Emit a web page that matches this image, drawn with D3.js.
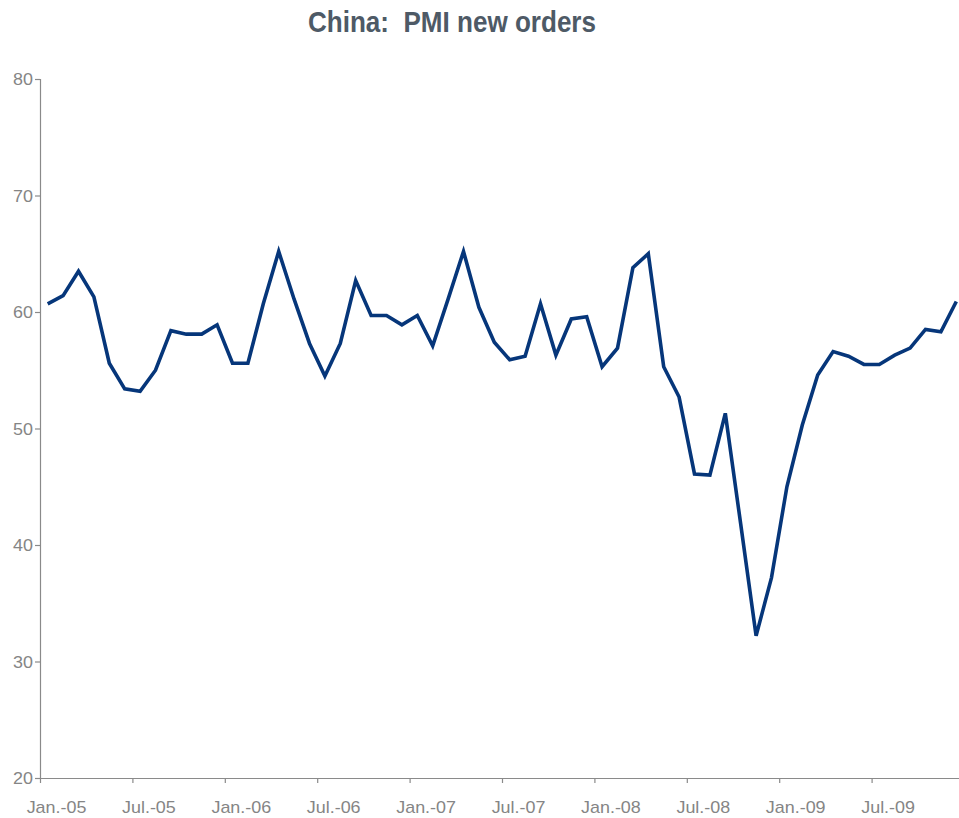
<!DOCTYPE html>
<html>
<head>
<meta charset="utf-8">
<script src="https://cdn.jsdelivr.net/npm/d3@7"></script>
<style>
  html, body { margin: 0; padding: 0; background: #fff; }
  svg { display: block; }
</style>
</head>
<body>
<div id="chart"></div>
<script>
// China PMI new-orders index, monthly, Jan 2005 - Dec 2009
const months = [];
for (const yr of ["05", "06", "07", "08", "09"]) {
  for (const m of ["Jan", "Feb", "Mar", "Apr", "May", "Jun", "Jul", "Aug", "Sep", "Oct", "Nov", "Dec"]) {
    months.push(m + ".-" + yr);
  }
}

const newOrders = [
  60.7, 61.4, 63.5, 61.3, 55.6, 53.4, 53.2, 55.0, 58.4, 58.1, 58.1, 58.9,
  55.6, 55.6, 60.7, 65.2, 61.1, 57.3, 54.5, 57.3, 62.7, 59.7, 59.7, 58.9,
  59.7, 57.1, 61.1, 65.2, 60.4, 57.4, 55.9, 56.2, 60.7, 56.3, 59.4, 59.6,
  55.3, 56.9, 63.8, 65.0, 55.3, 52.7, 46.1, 46.0, 51.3, 41.8, 32.2, 37.2,
  45.0, 50.3, 54.6, 56.6, 56.2, 55.5, 55.5, 56.3, 56.9, 58.5, 58.3, 60.9
];

const xTickLabels = ["Jan.-05", "Jul.-05", "Jan.-06", "Jul.-06", "Jan.-07",
                     "Jul.-07", "Jan.-08", "Jul.-08", "Jan.-09", "Jul.-09"];
const yTicks = [20, 30, 40, 50, 60, 70, 80];

const W = 959, H = 818;
const margin = { left: 40, top: 79, bottom: 40 };
const plotRight = 964;          // the last month runs just past the window edge

const svg = d3.select("#chart").append("svg")
  .attr("width", W).attr("height", H);

// months as unit-wide slots; each value sits in the middle of its slot
const x = d3.scaleLinear().domain([0, months.length]).range([margin.left, plotRight]);
const y = d3.scaleLinear().domain([20, 80]).range([H - margin.bottom, margin.top]);

const axisColor = "#8a8a8a";
const labelColor = "#858585";

// title
svg.append("text")
  .attr("x", 452).attr("y", 32)
  .attr("text-anchor", "middle")
  .attr("textLength", 288)
  .attr("lengthAdjust", "spacingAndGlyphs")
  .style("font-family", "'Liberation Sans Narrow', 'Liberation Sans', Arial, sans-serif")
  .style("font-weight", "bold")
  .style("font-size", "30px")
  .style("fill", "#4e5a66")
  .style("white-space", "pre")
  .text("China:  PMI new orders");

// y axis
const yAxis = svg.append("g")
  .attr("transform", `translate(${margin.left},0)`)
  .call(d3.axisLeft(y).tickValues(yTicks).tickSize(5).tickPadding(3).tickFormat(d3.format("d")));

// x axis: ticks every six months, label set one month in
const xTickVals = xTickLabels.map((_, i) => i * 6);
const xAxis = svg.append("g")
  .attr("transform", `translate(0,${y(20)})`)
  .call(d3.axisBottom(x).tickValues(xTickVals).tickSize(5).tickFormat((d, i) => xTickLabels[i]));

for (const g of [xAxis, yAxis]) {
  g.select(".domain").attr("stroke", axisColor).attr("stroke-width", 1.2);
  g.selectAll(".tick line").attr("stroke", axisColor).attr("stroke-width", 1.2);
  g.selectAll(".tick text")
    .attr("fill", labelColor)
    .style("font-family", "'Liberation Sans', Arial, sans-serif")
    .style("font-size", "16px");
}
// hide the tick that coincides with the y axis
xAxis.selectAll(".tick").filter(d => d === 0).select("line").remove();

const band = x(1) - x(0);
xAxis.selectAll(".tick text")
  .attr("x", null).attr("y", null).attr("dy", null)
  .attr("transform", `translate(${band + 0.6},34.5) scale(1.12,1)`);

yAxis.selectAll(".tick text")
  .attr("x", null).attr("dy", null)
  .attr("transform", "translate(-7,5.7) scale(1.12,1)")
  .attr("text-anchor", "end");

// the series line
const line = d3.line()
  .x((d, i) => x(i + 0.5))
  .y(d => y(d));

svg.append("path")
  .datum(newOrders)
  .attr("fill", "none")
  .attr("stroke", "#06367a")
  .attr("stroke-width", 3.6)
  .attr("stroke-linejoin", "miter")
  .attr("stroke-miterlimit", 4)
  .attr("d", line);
</script>
</body>
</html>
